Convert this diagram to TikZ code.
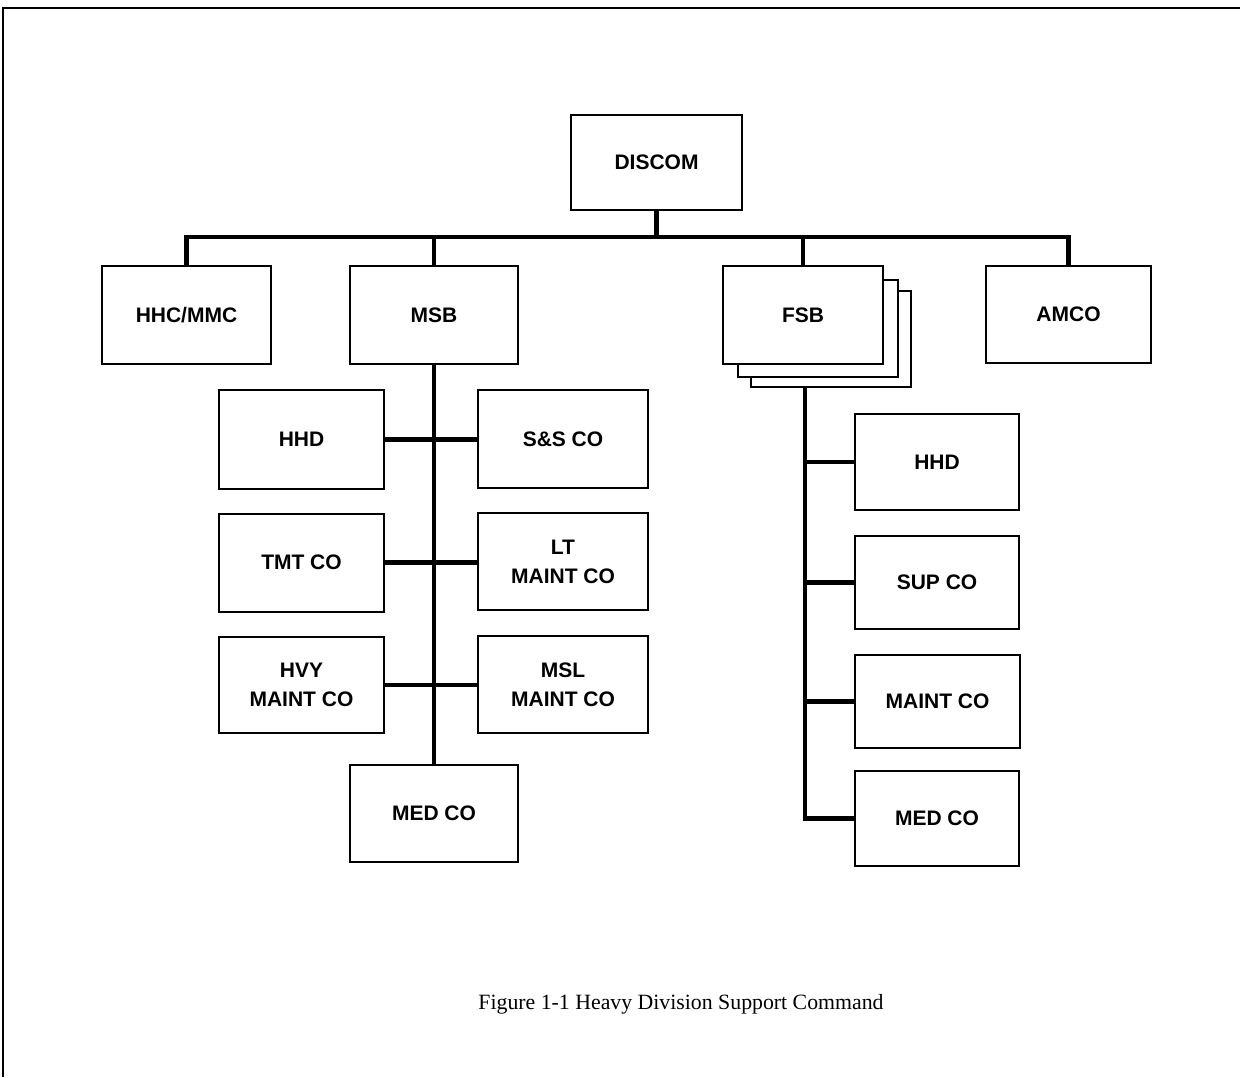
\documentclass[tikz,border=0pt]{standalone}
\usepackage{fontspec}
\setmainfont{Liberation Serif}
\setsansfont{Liberation Sans}
\begin{document}
\begin{tikzpicture}[x=0.5pt,y=-0.5pt,
  box/.style={draw, line width=1pt, fill=white, align=center, inner sep=0pt,
    font=\sffamily\bfseries\fontsize{10.5}{14.5}\selectfont},
  conn/.style={line width=2.3pt, line join=miter, line cap=butt},
  frame/.style={line width=0.8pt}]
\useasboundingbox (0,0) rectangle (1240,1077);
% frame
\draw[frame] (3,1077) -- (3,8) -- (1240,8);
% top level
\node[box, minimum width=85.5pt, minimum height=47.5pt] (discom) at (656.5,162.5) {DISCOM};
\node[box, minimum width=84.5pt, minimum height=49pt] (hhc) at (186.5,315) {HHC/MMC};
\node[box, minimum width=84pt, minimum height=49pt] (msb) at (434,315) {MSB};
\node[box, minimum width=80pt, minimum height=48pt] (fsbc) at (831,339) {};
\node[box, minimum width=80pt, minimum height=48.5pt] (fsbb) at (818,328.5) {};
\node[box, minimum width=80pt, minimum height=49pt] (fsb) at (803,315) {FSB};
\node[box, minimum width=82.5pt, minimum height=48.5pt] (amco) at (1068.5,314.5) {AMCO};
% MSB children
\node[box, minimum width=82.5pt, minimum height=49.5pt] (mhhd) at (301.5,439.5) {HHD};
\node[box, minimum width=85pt, minimum height=49pt] (mss) at (563,439) {S\&S CO};
\node[box, minimum width=82.5pt, minimum height=49pt] (mtmt) at (301.5,562.5) {TMT CO};
\node[box, minimum width=85pt, minimum height=48.5pt] (mlt) at (563,561.5) {LT\\MAINT CO};
\node[box, minimum width=82.5pt, minimum height=48pt] (mhvy) at (301.5,685) {HVY\\MAINT CO};
\node[box, minimum width=85pt, minimum height=48.5pt] (mmsl) at (563,684.5) {MSL\\MAINT CO};
\node[box, minimum width=84pt, minimum height=48.5pt] (mmed) at (434,813.5) {MED CO};
% FSB children
\node[box, minimum width=82pt, minimum height=48pt] (fhhd) at (937,462) {HHD};
\node[box, minimum width=82pt, minimum height=46.5pt] (fsup) at (937,582.5) {SUP CO};
\node[box, minimum width=82.5pt, minimum height=46.5pt] (fmaint) at (937.5,701.5) {MAINT CO};
\node[box, minimum width=82pt, minimum height=47.5pt] (fmed) at (937,818.5) {MED CO};
% bus
\coordinate (bus) at (656.5,237);
\draw[conn] (discom.south) -- (bus);
\draw[conn] (hhc.north) |- (bus) -| (amco.north);
\draw[conn] (msb.north) -- (msb.north |- bus);
\draw[conn] (fsb.north) -- (fsb.north |- bus);
% MSB spine
\draw[conn] (msb.south) -- (mmed.north);
\draw[conn] (mhhd.east) -- (mhhd.east -| mss.west);
\draw[conn] (mtmt.east) -- (mtmt.east -| mlt.west);
\draw[conn] (mhvy.east) -- (mhvy.east -| mmsl.west);
% FSB spine
\coordinate (fspine) at (805,387);
\draw[conn] (fspine) |- (fmed.west);
\draw[conn] (fhhd.west -| fspine) -- (fhhd.west);
\draw[conn] (fsup.west -| fspine) -- (fsup.west);
\draw[conn] (fmaint.west -| fspine) -- (fmaint.west);
% caption
\node[font=\fontsize{10.9}{13}\selectfont, inner sep=0pt] (cap) at (681,1004) {Figure 1-1 Heavy Division Support Command};
\end{tikzpicture}
\end{document}
